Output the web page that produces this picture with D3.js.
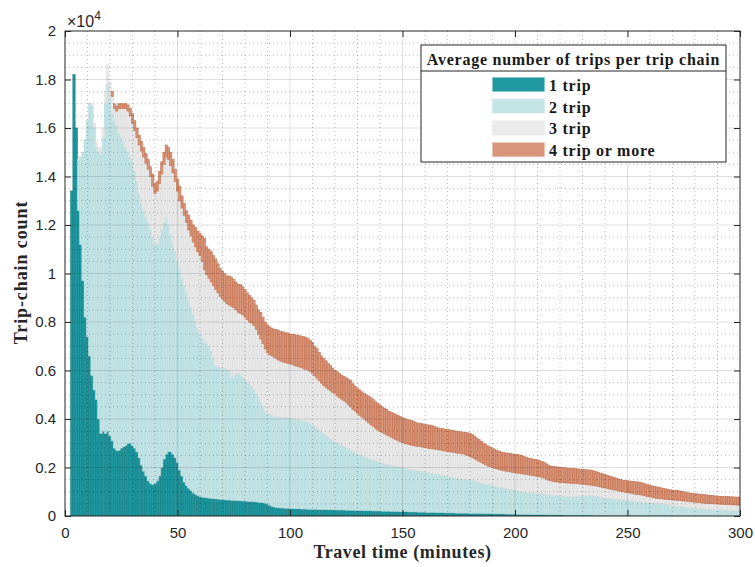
<!DOCTYPE html>
<html>
<head>
<meta charset="utf-8">
<script src="https://cdn.jsdelivr.net/npm/d3@7"></script>
<style>
  body { margin: 0; background: #fff; }
  svg { display: block; }
</style>
</head>
<body>
<div id="chart"></div>
<script>
// travel time bins, one per minute (1..300)
var minutes = d3.range(1, 301);

var seriesNames = ["1 trip", "2 trip", "3 trip", "4 trip or more"];

// trip-chain counts per minute
var oneTrip = [
  0, 0, 13400, 18200, 16000, 12600, 11200, 9700, 8200, 7400,
  6600, 5800, 5200, 4800, 4000, 3400, 3500, 3400, 3500, 3300,
  3100, 2800, 2700, 2700, 2800, 2850, 2900, 3000, 3000, 2900,
  2800, 2650, 2400, 2100, 1850, 1650, 1450, 1350, 1300, 1350,
  1450, 1650, 2000, 2350, 2550, 2650, 2650, 2550, 2400, 2200,
  1900, 1650, 1400, 1250, 1150, 1050, 950, 900, 850, 800,
  780, 760, 750, 740, 730, 720, 710, 700, 690, 680,
  670, 660, 660, 650, 650, 640, 630, 630, 620, 620,
  610, 600, 600, 590, 580, 570, 560, 550, 530, 500,
  450, 400, 370, 350, 340, 330, 330, 320, 320, 310,
  310, 300, 300, 300, 290, 290, 290, 280, 280, 280,
  280, 270, 270, 270, 270, 260, 260, 260, 260, 250,
  250, 250, 250, 250, 240, 240, 240, 240, 230, 230,
  230, 230, 220, 220, 220, 220, 210, 210, 210, 210,
  200, 200, 200, 200, 190, 190, 190, 190, 180, 180,
  180, 180, 170, 170, 170, 170, 160, 160, 160, 160,
  150, 150, 150, 150, 140, 140, 140, 140, 130, 130,
  130, 130, 130, 120, 120, 120, 120, 120, 120, 110,
  110, 110, 110, 110, 110, 100, 100, 100, 100, 100,
  90, 90, 90, 90, 90, 80, 80, 80, 80, 80,
  70, 70, 70, 70, 70, 70, 60, 60, 60, 60,
  60, 60, 60, 50, 50, 50, 50, 50, 50, 50,
  50, 40, 40, 40, 40, 40, 40, 40, 40, 40,
  40, 40, 40, 40, 30, 30, 30, 30, 30, 30,
  30, 30, 30, 30, 30, 30, 30, 30, 30, 30,
  30, 20, 20, 20, 20, 20, 20, 20, 20, 20,
  20, 20, 20, 20, 20, 20, 20, 20, 20, 20,
  10, 10, 10, 10, 10, 10, 10, 10, 10, 10,
  10, 10, 10, 10, 10, 10, 10, 10, 10, 10,
  10, 10, 10, 10, 10, 10, 10, 10, 10, 10
];

var twoTrip = [
  0, 0, 0, 0, 0, 2100, 3600, 5300, 7300, 8900,
  10400, 11100, 10800, 10400, 11000, 11500, 12100, 13600, 14300, 13900,
  13500, 13500, 13400, 13100, 12800, 12550, 12300, 12000, 11800, 11700,
  11400, 11150, 10900, 10800, 10750, 10650, 10650, 10450, 10200, 9850,
  9750, 9850, 9800, 9750, 9750, 9350, 8950, 8650, 8500, 8300,
  8300, 8150, 8100, 7950, 7750, 7550, 7350, 7100, 6850, 6700,
  6570, 6440, 6350, 6260, 6070, 5780, 5490, 5450, 5430, 5420,
  5430, 5390, 5340, 5100, 5150, 5210, 5270, 5220, 5130, 5030,
  4940, 4850, 4750, 4610, 4470, 4330, 4140, 3950, 3810, 3730,
  3750, 3750, 3730, 3750, 3740, 3740, 3730, 3730, 3730, 3730,
  3710, 3700, 3680, 3660, 3650, 3630, 3600, 3580, 3540, 3500,
  3440, 3380, 3300, 3210, 3130, 3070, 3000, 2920, 2860, 2820,
  2770, 2730, 2670, 2620, 2590, 2540, 2480, 2430, 2390, 2340,
  2300, 2260, 2230, 2190, 2150, 2120, 2100, 2070, 2040, 2010,
  1990, 1960, 1930, 1910, 1900, 1880, 1860, 1840, 1830, 1810,
  1790, 1770, 1760, 1740, 1720, 1700, 1700, 1690, 1680, 1670,
  1660, 1640, 1620, 1600, 1590, 1570, 1550, 1530, 1520, 1500,
  1480, 1460, 1440, 1430, 1420, 1410, 1400, 1390, 1380, 1380,
  1370, 1350, 1320, 1290, 1260, 1240, 1220, 1200, 1180, 1160,
  1150, 1130, 1110, 1090, 1070, 1060, 1040, 1020, 1000, 980,
  970, 950, 930, 920, 910, 900, 900, 890, 880, 870,
  860, 850, 840, 840, 830, 820, 810, 800, 790, 780,
  770, 780, 770, 770, 760, 760, 770, 780, 790, 800,
  810, 810, 810, 800, 800, 790, 770, 750, 730, 710,
  700, 690, 680, 670, 660, 650, 640, 630, 620, 610,
  600, 600, 590, 580, 570, 560, 550, 540, 530, 520,
  520, 510, 510, 500, 490, 480, 460, 440, 420, 400,
  400, 390, 380, 370, 360, 350, 340, 330, 320, 310,
  300, 290, 280, 280, 270, 270, 260, 260, 250, 250,
  240, 240, 230, 230, 220, 220, 210, 210, 200, 200
];

var threeTrip = [
  0, 0, 0, 0, 0, 0, 0, 0, 0, 0,
  0, 100, 200, 200, 200, 300, 400, 500, 800, 700,
  700, 500, 600, 1000, 1200, 1400, 1600, 1700, 1700, 1600,
  1700, 1800, 2000, 2150, 2200, 2250, 2200, 2200, 2100, 2100,
  2200, 2200, 2300, 2400, 2500, 2700, 2850, 2950, 2900, 2900,
  2800, 2900, 2900, 2900, 2900, 2950, 3000, 3100, 3200, 3250,
  3150, 2950, 2850, 2800, 2850, 3000, 3150, 3050, 2930, 2850,
  2750, 2700, 2700, 2900, 2800, 2650, 2500, 2510, 2550, 2550,
  2550, 2550, 2600, 2650, 2650, 2600, 2600, 2600, 2550, 2500,
  2450, 2450, 2450, 2380, 2350, 2310, 2290, 2270, 2250, 2230,
  2220, 2210, 2200, 2190, 2180, 2160, 2160, 2160, 2130, 2100,
  2060, 2030, 2010, 2000, 1980, 1970, 1970, 1980, 1980, 1980,
  1930, 1900, 1900, 1880, 1840, 1800, 1780, 1730, 1700, 1670,
  1630, 1590, 1550, 1510, 1470, 1420, 1390, 1340, 1300, 1260,
  1250, 1230, 1210, 1190, 1160, 1130, 1100, 1070, 1050, 1040,
  1030, 1020, 1010, 1010, 1010, 1010, 1010, 1010, 1000, 990,
  990, 1000, 1010, 1010, 1020, 1020, 1030, 1030, 1030, 1030,
  1040, 1040, 1050, 1050, 1050, 1050, 1040, 1020, 990, 960,
  930, 900, 880, 860, 840, 820, 790, 760, 750, 740,
  730, 720, 710, 710, 710, 710, 720, 720, 720, 720,
  730, 740, 740, 740, 730, 730, 720, 720, 710, 710,
  700, 680, 660, 630, 600, 580, 570, 560, 560, 560,
  560, 550, 550, 550, 550, 550, 530, 510, 490, 470,
  450, 440, 430, 430, 430, 420, 420, 420, 420, 420,
  410, 400, 390, 380, 370, 360, 350, 340, 330, 330,
  320, 310, 300, 290, 290, 290, 280, 270, 260, 250,
  230, 220, 200, 200, 200, 200, 210, 220, 230, 240,
  250, 250, 250, 250, 250, 250, 250, 250, 250, 250,
  250, 250, 250, 240, 240, 240, 240, 240, 240, 240,
  240, 240, 240, 240, 240, 240, 240, 240, 240, 240
];

var fourTrip = [
  0, 0, 0, 0, 0, 0, 0, 0, 0, 0,
  0, 0, 0, 0, 0, 0, 0, 0, 0, 0,
  200, 200, 200, 200, 200, 200, 200, 250, 300, 400,
  400, 400, 400, 400, 400, 400, 400, 400, 500, 400,
  400, 500, 500, 500, 500, 500, 550, 550, 500, 500,
  600, 500, 500, 500, 600, 650, 700, 800, 850, 900,
  1050, 1300, 1150, 1200, 1250, 1250, 1250, 1200, 1150, 1150,
  1150, 1150, 1200, 1200, 1150, 1150, 1150, 1190, 1150, 1150,
  1100, 1100, 1050, 1050, 1000, 1000, 1100, 1100, 1100, 1150,
  1150, 1150, 1150, 1220, 1220, 1220, 1250, 1230, 1250, 1230,
  1260, 1270, 1280, 1300, 1300, 1320, 1320, 1310, 1300, 1270,
  1220, 1220, 1170, 1120, 1120, 1100, 1070, 1040, 1000, 950,
  1000, 1000, 980, 1000, 1030, 1070, 1100, 1050, 1030, 1010,
  1040, 1040, 1050, 1080, 1110, 1120, 1100, 1100, 1100, 1100,
  1060, 1060, 1060, 1020, 1030, 1040, 1050, 1050, 1040, 1020,
  1020, 1010, 1020, 1020, 1000, 980, 960, 960, 960, 960,
  960, 960, 950, 940, 920, 900, 890, 900, 900, 900,
  900, 900, 890, 900, 890, 890, 900, 920, 940, 960,
  950, 940, 910, 890, 870, 850, 840, 830, 820, 800,
  790, 770, 760, 750, 750, 750, 750, 760, 760, 760,
  760, 760, 750, 730, 710, 690, 690, 680, 680, 670,
  660, 650, 640, 630, 620, 610, 610, 620, 620, 620,
  620, 620, 620, 610, 620, 610, 610, 610, 610, 610,
  610, 610, 620, 610, 600, 590, 580, 570, 560, 550,
  540, 530, 520, 510, 500, 490, 480, 480, 480, 480,
  490, 500, 510, 520, 520, 510, 500, 490, 480, 470,
  470, 470, 470, 460, 450, 440, 430, 420, 410, 410,
  400, 400, 400, 390, 380, 370, 360, 350, 350, 350,
  350, 350, 350, 350, 350, 340, 340, 330, 330, 320,
  320, 310, 320, 320, 330, 320, 330, 320, 330, 330
];

var xTicks = [0, 50, 100, 150, 200, 250, 300];
var yTicks = [0, 2000, 4000, 6000, 8000, 10000, 12000, 14000, 16000, 18000, 20000];

var fills = ["#1f999f", "#c5e4e6", "#eaeaea", "#d8957a"];
var edges = ["#137e83", "#b2d9dc", "#dcdcdc", "#c3714f"];

var W = 755, H = 567;
var margin = {top: 31, right: 15, bottom: 51, left: 65};
var width = W - margin.left - margin.right,
    height = H - margin.top - margin.bottom;

var serif = "'Liberation Serif', 'Times New Roman', serif";

var rows = minutes.map(function(t, i) {
  return {t: t, "1 trip": oneTrip[i], "2 trip": twoTrip[i], "3 trip": threeTrip[i], "4 trip or more": fourTrip[i]};
});

var stacked = d3.stack().keys(seriesNames)(rows);

var x = d3.scaleLinear().domain([0, 300]).range([margin.left, margin.left + width]);
var y = d3.scaleLinear().domain([0, 20000]).range([margin.top + height, margin.top]);

var svg = d3.select("#chart").append("svg")
    .attr("width", W)
    .attr("height", H)
    .style("font-family", "'Liberation Sans', Arial, sans-serif");

svg.append("defs").append("clipPath").attr("id", "plotclip")
  .append("rect")
    .attr("x", margin.left).attr("y", margin.top)
    .attr("width", width).attr("height", height);

// bars
var plot = svg.append("g").attr("clip-path", "url(#plotclip)");

plot.selectAll("g.layer")
    .data(stacked)
  .enter().append("g")
    .attr("class", "layer")
    .attr("fill", function(d, i) { return fills[i]; })
    .attr("stroke", function(d, i) { return edges[i]; })
    .attr("stroke-width", 0.6)
  .selectAll("rect")
    .data(function(d) { return d.filter(function(p) { return p[1] > p[0]; }); })
  .enter().append("rect")
    .attr("x", function(d) { return x(d.data.t - 0.5); })
    .attr("width", x(1) - x(0))
    .attr("y", function(d) { return y(d[1]); })
    .attr("height", function(d) { return y(d[0]) - y(d[1]); });

// grid on top of bars (minor dotted, major solid)
var grid = svg.append("g").attr("clip-path", "url(#plotclip)");

grid.selectAll("line.xminor")
    .data(d3.range(10, 300, 10).filter(function(v) { return v % 50 !== 0; }))
  .enter().append("line")
    .attr("x1", x).attr("x2", x)
    .attr("y1", margin.top).attr("y2", margin.top + height)
    .attr("stroke", "#000").attr("stroke-opacity", 0.26)
    .attr("stroke-dasharray", "1,3");

grid.selectAll("line.yminor")
    .data(d3.range(500, 20000, 500).filter(function(v) { return v % 2000 !== 0; }))
  .enter().append("line")
    .attr("y1", y).attr("y2", y)
    .attr("x1", margin.left).attr("x2", margin.left + width)
    .attr("stroke", "#000").attr("stroke-opacity", 0.26)
    .attr("stroke-dasharray", "1,3");

grid.selectAll("line.xmajor")
    .data(xTicks.slice(1, -1))
  .enter().append("line")
    .attr("x1", x).attr("x2", x)
    .attr("y1", margin.top).attr("y2", margin.top + height)
    .attr("stroke", "#000").attr("stroke-opacity", 0.12);

grid.selectAll("line.ymajor")
    .data(yTicks.slice(1, -1))
  .enter().append("line")
    .attr("y1", y).attr("y2", y)
    .attr("x1", margin.left).attr("x2", margin.left + width)
    .attr("stroke", "#000").attr("stroke-opacity", 0.12);

// axes (ticks pointing inwards, box on)
var fmtY = function(d) { return String(+(d / 1e4).toFixed(1)); };

var gx = svg.append("g")
    .attr("transform", "translate(0," + (margin.top + height) + ")")
    .call(d3.axisBottom(x).tickValues(xTicks).tickSizeInner(-6).tickSizeOuter(0).tickPadding(11));

var gy = svg.append("g")
    .attr("transform", "translate(" + margin.left + ",0)")
    .call(d3.axisLeft(y).tickValues(yTicks).tickFormat(fmtY).tickSizeInner(-6).tickSizeOuter(0).tickPadding(9));

var gxt = svg.append("g")
    .attr("transform", "translate(0," + margin.top + ")")
    .call(d3.axisTop(x).tickValues(xTicks).tickSizeInner(-6).tickSizeOuter(0).tickFormat(""));

var gyr = svg.append("g")
    .attr("transform", "translate(" + (margin.left + width) + ",0)")
    .call(d3.axisRight(y).tickValues(yTicks).tickSizeInner(-6).tickSizeOuter(0).tickFormat(""));

[gx, gy, gxt, gyr].forEach(function(g) {
  g.select(".domain").remove();
  g.selectAll(".tick line").attr("stroke", "#262626");
  g.selectAll(".tick text")
    .attr("fill", "#262626")
    .style("font-size", "15px")
    .style("font-family", "'Liberation Sans', Arial, sans-serif");
});

svg.append("rect")
    .attr("x", margin.left).attr("y", margin.top)
    .attr("width", width).attr("height", height)
    .attr("fill", "none")
    .attr("stroke", "#262626");

// exponent label
var expo = svg.append("text")
    .attr("x", margin.left + 2)
    .attr("y", margin.top - 4)
    .attr("fill", "#262626")
    .style("font-size", "16px");
expo.append("tspan").text("\u00d710");
expo.append("tspan").attr("dy", -7).style("font-size", "12px").text("4");

// axis titles
svg.append("text")
    .attr("x", margin.left + width / 2)
    .attr("y", 558)
    .attr("text-anchor", "middle")
    .attr("fill", "#262626")
    .style("font-family", serif)
    .style("font-weight", "bold")
    .style("font-size", "18px")
    .style("letter-spacing", "0.6px")
    .text("Travel time (minutes)");

svg.append("text")
    .attr("transform", "translate(27," + (margin.top + height / 2 - 1) + ") rotate(-90)")
    .attr("text-anchor", "middle")
    .attr("fill", "#262626")
    .style("font-family", serif)
    .style("font-weight", "bold")
    .style("font-size", "18px")
    .style("letter-spacing", "0.9px")
    .text("Trip-chain count");

// legend
var lg = svg.append("g").attr("transform", "translate(421,45)");
var lgW = 305, lgH = 117;

lg.append("rect")
    .attr("width", lgW).attr("height", lgH)
    .attr("fill", "#fff")
    .attr("stroke", "#262626");

lg.append("line")
    .attr("x1", 0).attr("x2", lgW)
    .attr("y1", 26).attr("y2", 26)
    .attr("stroke", "#262626");

lg.append("text")
    .attr("x", lgW / 2)
    .attr("y", 20)
    .attr("text-anchor", "middle")
    .attr("fill", "#1a1a1a")
    .style("font-family", serif)
    .style("font-weight", "bold")
    .style("font-size", "16px")
    .style("letter-spacing", "0.75px")
    .text("Average number of trips per trip chain");

var item = lg.selectAll("g.item")
    .data(seriesNames)
  .enter().append("g")
    .attr("class", "item")
    .attr("transform", function(d, i) { return "translate(71," + (32 + i * 21.7) + ")"; });

item.append("rect")
    .attr("width", 53).attr("height", 15)
    .attr("fill", function(d, i) { return fills[i]; })
    .attr("stroke", "#f4f4f4");

item.append("text")
    .attr("x", 57)
    .attr("y", 14)
    .attr("fill", "#1a1a1a")
    .style("font-family", serif)
    .style("font-weight", "bold")
    .style("font-size", "16px")
    .style("letter-spacing", "0.75px")
    .text(function(d) { return d; });
</script>
</body>
</html>
